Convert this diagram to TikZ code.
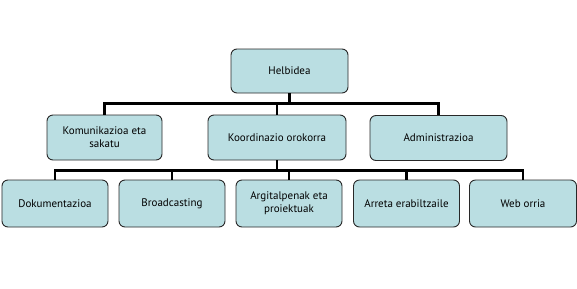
\documentclass[tikz,border=0pt]{standalone}
\usepackage{fontspec}
\setmainfont{PT Sans}
\usetikzlibrary{positioning}
\definecolor{boxfill}{RGB}{186,222,226}
\definecolor{boxline}{RGB}{40,40,40}
\begin{document}
\begin{tikzpicture}[x=1bp,y=-1bp,
  box/.style={draw=boxline,fill=boxfill,line width=0.9bp,rounded corners=6bp,align=center,
              font=\fontsize{11bp}{13bp}\selectfont,inner sep=2bp},
  lvlone/.style={box,minimum height=45bp},
  lvltwo/.style={box,minimum height=47bp,minimum width=106bp},
  bus/.style={line width=2.6bp}]
 \useasboundingbox (0,0) rectangle (577,288);
 \node[lvlone,minimum width=117bp,minimum height=44bp] (helb) at (289.5,71) {Helbidea};
 \node[lvlone,minimum width=115bp] (kom) at (104.5,137.5) {Komunikazioa eta\\ sakatu};
 \node[lvlone,minimum width=138bp] (koord) at (277,137.5) {Koordinazio orokorra};
 \node[lvlone,minimum width=137bp] (admin) at (438.5,138) {Administrazioa};
 \node[lvltwo] (dok) at (55,203.5) {Dokumentazioa};
 \node[lvltwo] (broad) at (172,203.5) {Broadcasting};
 \node[lvltwo] (argi) at (289,203.5) {Argitalpenak eta\\ proiektuak};
 \node[lvltwo] (arreta) at (406.5,203.5) {Arreta erabiltzaile};
 \node[lvltwo,minimum width=107bp] (web) at (523,203.5) {Web orria};
 % upper bus
 \draw[bus] (helb.south) -- ++(0,10) coordinate (top);
 \draw[bus] (kom.north) |- (top) -| (admin.north);
 \draw[bus] (koord.north) -- (koord.north |- top);
 % lower bus
 \draw[bus] (koord.south) -- ++(0,10) coordinate (low);
 \draw[bus] (dok.north) |- (low) -| (web.north);
 \draw[bus] (broad.north) -- (broad.north |- low);
 \draw[bus] (argi.north) -- (argi.north |- low);
 \draw[bus] (arreta.north) -- (arreta.north |- low);
\end{tikzpicture}
\end{document}
